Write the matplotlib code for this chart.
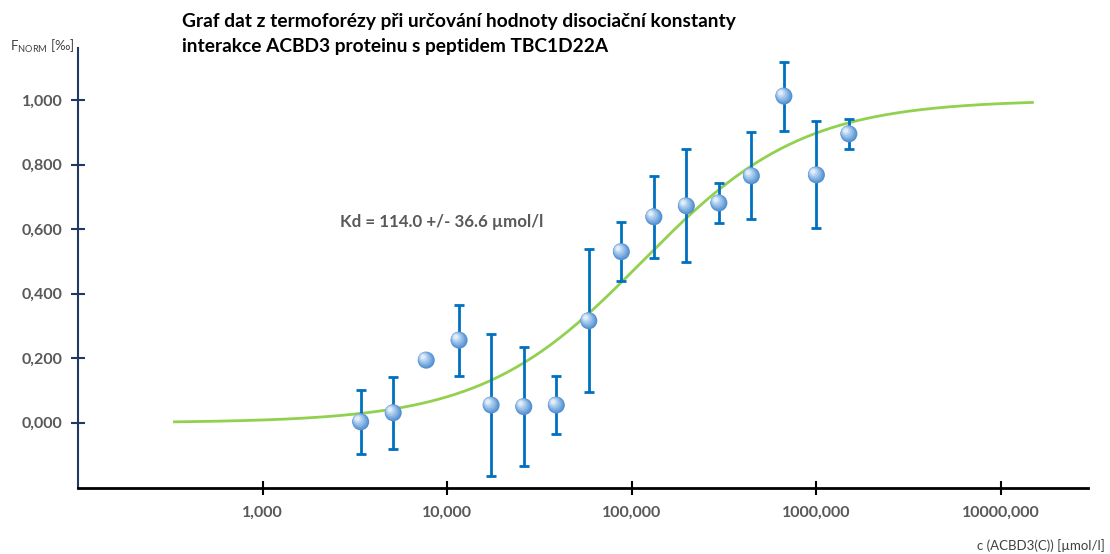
import numpy as np
import matplotlib
matplotlib.use("Agg")
import matplotlib.pyplot as plt
import matplotlib.transforms as mtransforms
from matplotlib.ticker import FixedLocator, FuncFormatter

plt.rcParams['font.family'] = ['Lato', 'DejaVu Sans']

# data
conc = [3.4, 5.1, 7.7, 11.6, 17.3, 26.0, 39.0, 58.5, 87.8, 131.7, 197.5, 296.3, 444.4, 666.7, 1000.0, 1500.0]
fnorm = [0.003, 0.031, 0.194, 0.256, 0.055, 0.050, 0.055, 0.316, 0.530, 0.638, 0.672, 0.681, 0.765, 1.012, 0.768, 0.895]
ferr = [0.100, 0.112, 0.010, 0.110, 0.219, 0.185, 0.090, 0.221, 0.092, 0.126, 0.175, 0.062, 0.135, 0.107, 0.166, 0.046]

kd = 114.0
kd_err = 36.6
fit_min, fit_max = 0.333, 14800.0

yticks = [0.0, 0.2, 0.4, 0.6, 0.8, 1.0]
xticks = [1, 10, 100, 1000, 10000]

title = "Graf dat z termoforézy při určování hodnoty disociační konstanty\ninterakce ACBD3 proteinu s peptidem TBC1D22A"

fig = plt.figure(figsize=(11.1, 5.54), dpi=100)
ax = fig.add_axes([78/1110, 66/554, 1010/1110, 440/554])
ax.set_xscale('log')
ax.set_xlim(0.1, 29600)
ax.set_ylim(-0.202, 1.161)

# fit curve (1:1 binding)
xf = np.logspace(np.log10(fit_min), np.log10(fit_max), 300)
ax.plot(xf, xf / (xf + kd), color='#92d050', lw=2, zorder=2)

# error bars
ax.errorbar(conc, fnorm, yerr=ferr, fmt='none', ecolor='#0070c0',
            elinewidth=2, capsize=3.5, capthick=2, zorder=3)

# shaded "sphere" markers
layers = [(150, '#5590d0', 0, 0), (120, '#6aa0da', -0.5, 0.5), (90, '#84b2e2', -1, 1),
          (60, '#a0c5ea', -1.5, 1.5), (32, '#bfd8f1', -2, 2), (12, '#e0ecf8', -2.3, 2.3)]
for s, c, dx, dy in layers:
    tr = mtransforms.offset_copy(ax.transData, fig=fig, x=dx, y=dy, units='points')
    ax.scatter(conc, fnorm, s=s, color=c, edgecolors='none', transform=tr, zorder=4)

for sp in ['top', 'right']:
    ax.spines[sp].set_visible(False)
ax.spines['left'].set_color('#1f3864')
ax.spines['left'].set_linewidth(1.5)
ax.spines['bottom'].set_color('black')
ax.spines['bottom'].set_linewidth(2)

ax.yaxis.set_major_locator(FixedLocator(yticks))
ax.yaxis.set_major_formatter(FuncFormatter(lambda v, p: f"{v:.3f}".replace('.', ',')))
ax.xaxis.set_major_locator(FixedLocator(xticks))
ax.xaxis.set_minor_locator(FixedLocator([]))
ax.xaxis.set_major_formatter(FuncFormatter(lambda v, p: f"{v:.3f}".replace('.', ',')))
ax.tick_params(axis='y', direction='inout', length=10, width=1.5, color='#1f3864',
               labelsize=11.5, labelcolor='#595959', pad=6)
ax.tick_params(axis='x', direction='inout', length=10, width=1.5, color='black',
               labelsize=11.5, labelcolor='#595959', pad=8)
for lab in ax.get_xticklabels() + ax.get_yticklabels():
    lab.set_fontweight('bold')

fig.text(182/1110, 1 - 13/554, title, ha='left', va='top', fontsize=13.8,
         fontweight='bold', color='black', linespacing=1.55)
fig.text(340/1110, 1 - 222/554, f"Kd = {kd:.1f} +/- {kd_err:.1f} µmol/l",
         ha='left', va='center', fontsize=12.2, fontweight='bold', color='#595959')
fig.text(10/1110, 1 - 46/554, r"F$_{\mathregular{NORM}}$ [‰]", ha='left', va='center',
         fontsize=9.5, color='#404040')
fig.text(1105/1110, 1 - 546/554, "c (ACBD3(C)) [µmol/l]", ha='right', va='center',
         fontsize=9.5, color='#404040')

fig.savefig("out.png", dpi=100)
